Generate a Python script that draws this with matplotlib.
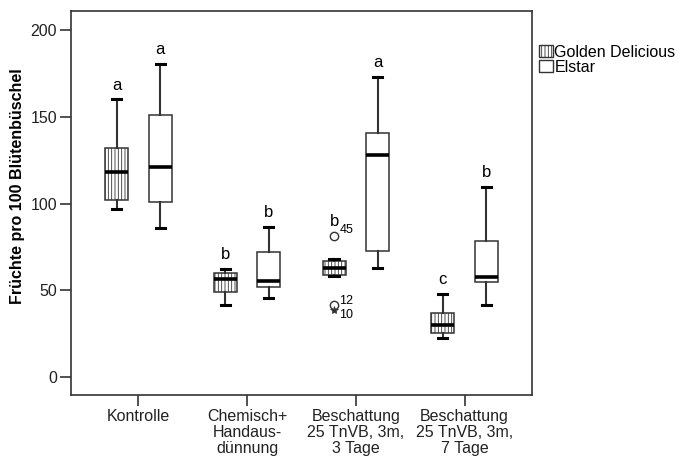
import numpy as np
import matplotlib.pyplot as plt
from matplotlib.patches import Patch

plt.rcParams['font.family'] = ['Liberation Sans', 'DejaVu Sans']
plt.rcParams['hatch.linewidth'] = 0.6
plt.rcParams['hatch.color'] = '#333333'

# Gruppen und Werte
gruppen = ['Kontrolle', 'Chemisch+\nHandaus-\ndünnung',
           'Beschattung\n25 TnVB, 3m,\n3 Tage', 'Beschattung\n25 TnVB, 3m,\n7 Tage']
sorten = ['Golden Delicious', 'Elstar']

# whisker unten, Q1, Median, Q3, whisker oben
gd_whislo = [96.8, 41.5, 58.3, 22.3]
gd_q1 = [102.0, 48.9, 58.9, 25.2]
gd_med = [117.9, 56.4, 62.7, 30.0]
gd_q3 = [132.3, 60.2, 67.1, 36.7]
gd_whishi = [160.0, 62.3, 67.9, 47.7]

el_whislo = [85.8, 45.4, 63.1, 41.5]
el_q1 = [100.6, 51.9, 72.9, 54.6]
el_med = [121.3, 55.4, 127.7, 57.9]
el_q3 = [151.0, 71.9, 140.6, 78.6]
el_whishi = [180.6, 86.7, 172.9, 109.4]

# Ausreisser (nur GD, Beschattung 3 Tage)
ausr_werte = [81.4, 41.5]
ausr_nr = ['45', '12']
extrem_werte = [38.7]
extrem_nr = ['10']

gd_buchst = ['a', 'b', 'b', 'c']
el_buchst = ['a', 'b', 'a', 'b']

fig = plt.figure(figsize=(6.87, 4.59), dpi=100)
ax = fig.add_axes([0.1033, 0.1394, 0.6711, 0.8366])

pos = np.arange(len(gruppen))
off = 0.2
breite = 0.21

def stats(lo, q1, med, q3, hi, fl=None):
    out = []
    for i in range(len(lo)):
        out.append(dict(whislo=lo[i], q1=q1[i], med=med[i], q3=q3[i], whishi=hi[i],
                        fliers=[] if fl is None else fl[i]))
    return out

gd_fl = [[], [], ausr_werte, []]
kante = '#333333'
gemein = dict(widths=breite, patch_artist=True, capwidths=0.085,
              medianprops=dict(color='black', linewidth=2.6),
              whiskerprops=dict(color=kante, linewidth=1.5),
              capprops=dict(color='black', linewidth=2.2),
              flierprops=dict(marker='o', markerfacecolor='white', markeredgecolor=kante,
                              markersize=6, markeredgewidth=1))

b1 = ax.bxp(stats(gd_whislo, gd_q1, gd_med, gd_q3, gd_whishi, gd_fl),
            positions=pos - off, boxprops=dict(facecolor='white', edgecolor=kante,
                                               linewidth=1.1, hatch='|||||'), **gemein)
b2 = ax.bxp(stats(el_whislo, el_q1, el_med, el_q3, el_whishi),
            positions=pos + off, boxprops=dict(facecolor='white', edgecolor=kante,
                                               linewidth=1.1), **gemein)

# Extremwert als Stern
ax.plot([pos[2] - off] * len(extrem_werte), extrem_werte, marker='*', color=kante,
        markersize=6, linestyle='none', markeredgewidth=0.5)
for v, t in zip(ausr_werte, ausr_nr):
    dy = 3.5 if t == '45' else 2.5
    ax.text(pos[2] - off + 0.05, v + dy, t, fontsize=9, ha='left', va='center')
for v, t in zip(extrem_werte, extrem_nr):
    ax.text(pos[2] - off + 0.05, v - 3, t, fontsize=9, ha='left', va='center')

# Buchstaben ueber den Boxen
for i in range(len(gruppen)):
    gtop = max([gd_whishi[i]] + gd_fl[i])
    ax.text(pos[i] - off, gtop + 4, gd_buchst[i], fontsize=12, ha='center', va='bottom')
    ax.text(pos[i] + off, el_whishi[i] + 4, el_buchst[i], fontsize=12, ha='center', va='bottom')

ax.set_xlim(-0.62, 3.62)
ax.set_ylim(-10.4, 211)
ax.set_yticks([0, 50, 100, 150, 200])
ax.set_xticks(pos)
ax.set_xticklabels(gruppen, fontsize=11.5, linespacing=1.08)
ax.tick_params(axis='y', labelsize=11.5, length=8, width=1.2, colors=kante, labelcolor='#222222', pad=2)
ax.tick_params(axis='x', length=8, width=1.2, colors=kante, labelcolor='#222222', pad=2)
for s in ax.spines.values():
    s.set_color(kante)
    s.set_linewidth(1.2)
ax.set_ylabel('Früchte pro 100 Blütenbüschel', fontsize=11.5, fontweight='bold')
ax.yaxis.set_label_coords(-0.0998, 0.545)

handles = [Patch(facecolor='white', edgecolor=kante, hatch='|||||', label=sorten[0]),
           Patch(facecolor='white', edgecolor=kante, label=sorten[1])]
fig.legend(handles=handles, loc='upper left', bbox_to_anchor=(0.785, 0.903), frameon=False,
           fontsize=11.5, handlelength=0.85, handleheight=0.8, handletextpad=0.1,
           labelspacing=0.0, borderaxespad=0, borderpad=0)

fig.savefig('out.png', dpi=100)
